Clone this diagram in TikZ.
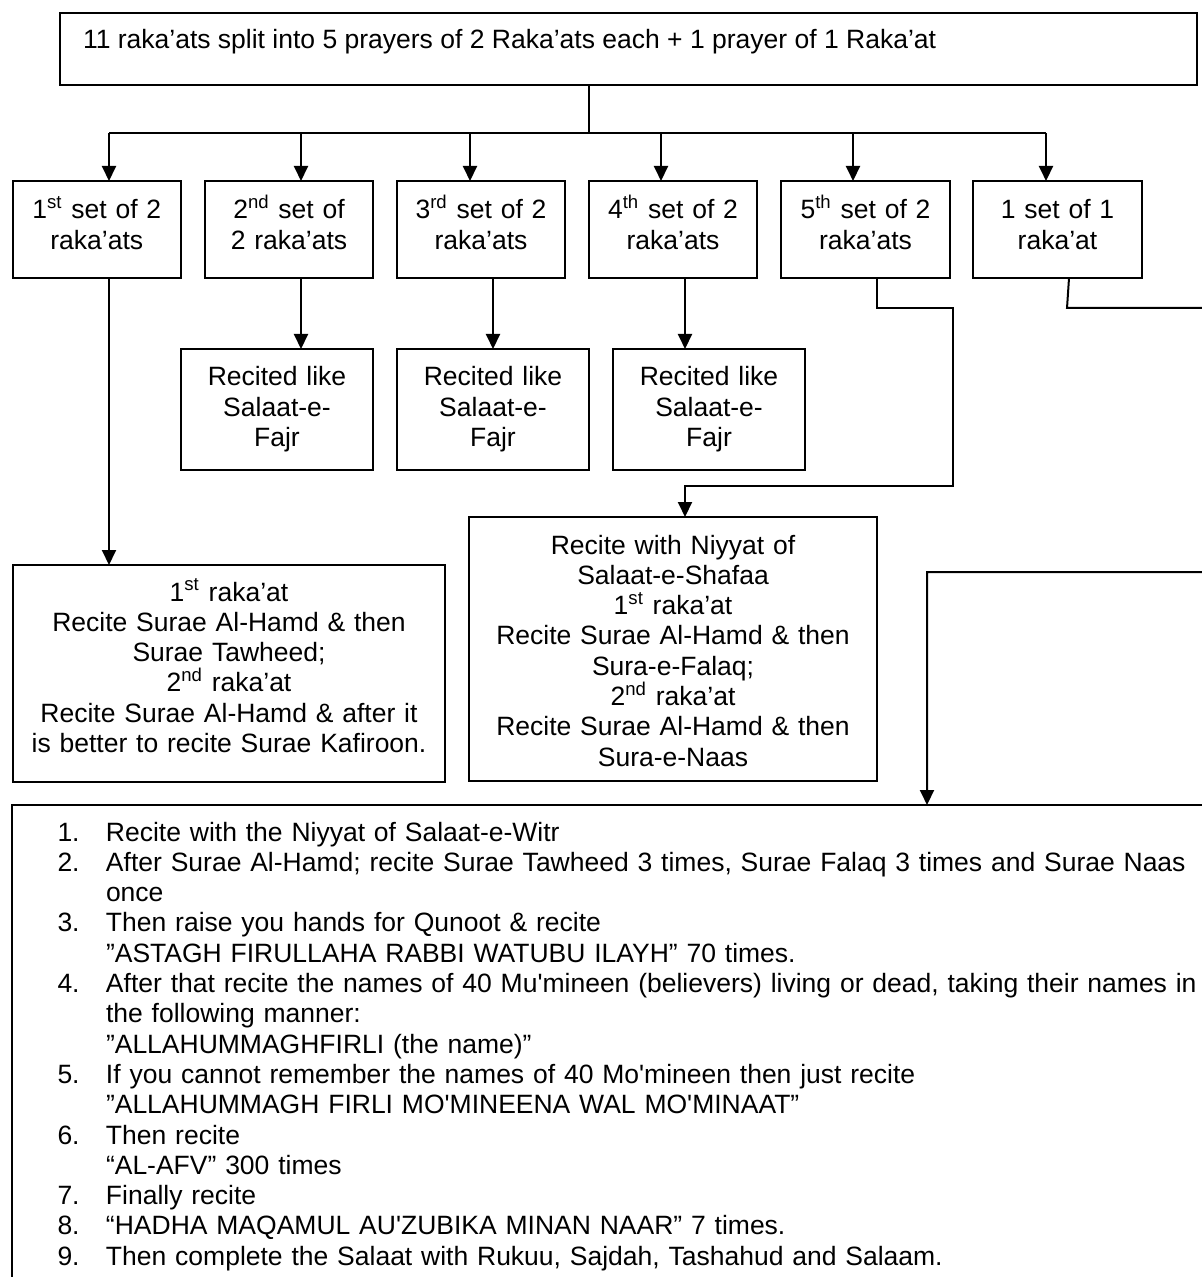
\documentclass[tikz,border=0pt]{standalone}
\usepackage{fontspec}
\setmainfont{Liberation Sans}[Ligatures=TeXOff]
\usetikzlibrary{arrows.meta,fit}
\begin{document}
\begin{tikzpicture}[x=0.5pt,y=-0.5pt,
  box/.style={draw, line width=1pt, inner sep=0pt, outer sep=0pt},
  txt/.style={inner sep=0pt, outer sep=0pt, align=center, font=\fontsize{13.25}{15.15}\selectfont},
  conn/.style={line width=1pt},
  arr/.style={conn, -{Triangle[length=7.5pt,width=7pt]}},
]
\useasboundingbox (0,0) rectangle (1202,1277);
\clip (0,0) rectangle (1202,1277);

% top box
\node[box, fit={(60,13) (1197,85)}] (top) {};
\node[txt, anchor=base west] (topt) at (83,49) {11 raka’ats split into 5 prayers of 2 Raka’ats each + 1 prayer of 1 Raka’at};

% first row
\node[box, fit={(12.6,181) (181,278)}] (b1) {};
\node[box, fit={(205,181) (373,278)}] (b2) {};
\node[box, fit={(397,181) (565,278)}] (b3) {};
\node[box, fit={(589,181) (757,278)}] (b4) {};
\node[box, fit={(781,181) (950,278)}] (b5) {};
\node[box, fit={(973,181) (1142,278)}] (b6) {};
\node[txt, text width=75pt, anchor=base] (b1t) at (96.8,219) {1\textsuperscript{st} set of 2\\raka’ats};
\node[txt, text width=75pt, anchor=base] (b2t) at (289,219) {2\textsuperscript{nd} set of\\2 raka’ats};
\node[txt, text width=75pt, anchor=base] (b3t) at (481,219) {3\textsuperscript{rd} set of 2\\raka’ats};
\node[txt, text width=75pt, anchor=base] (b4t) at (673,219) {4\textsuperscript{th} set of 2\\raka’ats};
\node[txt, text width=75pt, anchor=base] (b5t) at (865.5,219) {5\textsuperscript{th} set of 2\\raka’ats};
\node[txt, text width=75pt, anchor=base] (b6t) at (1057.5,219) {1 set of 1\\raka’at};

% recited boxes
\node[box, fit={(181,349) (373,470)}] (r1) {};
\node[box, fit={(397,349) (589,470)}] (r2) {};
\node[box, fit={(613,349) (805,470)}] (r3) {};
\node[txt, text width=90pt, anchor=base] (r1t) at (277,386) {Recited like\\Salaat-e-\\Fajr};
\node[txt, text width=90pt, anchor=base] (r2t) at (493,386) {Recited like\\Salaat-e-\\Fajr};
\node[txt, text width=90pt, anchor=base] (r3t) at (709,386) {Recited like\\Salaat-e-\\Fajr};

% left detail box
\node[box, fit={(12.5,565) (445,782)}] (L) {};
\node[txt, text width=210pt, anchor=base] (Lt) at (229,601) {1\textsuperscript{st} raka’at\\Recite Surae Al-Hamd \& then\\Surae Tawheed;\\2\textsuperscript{nd} raka’at\\Recite Surae Al-Hamd \& after it\\is better to recite Surae Kafiroon.};

% Niyyat box
\node[box, fit={(469,517) (877,781)}] (N) {};
\node[txt, text width=195pt, anchor=base] (Nt) at (673,554) {Recite with Niyyat of\\Salaat-e-Shafaa\\1\textsuperscript{st} raka’at\\Recite Surae Al-Hamd \& then\\Sura-e-Falaq;\\2\textsuperscript{nd} raka’at\\Recite Surae Al-Hamd \& then\\Sura-e-Naas};

% bottom box (runs off the page)
\node[box, fit={(12,805) (1240,1300)}] (B) {};
\node[txt, text width=575pt, align=left, anchor=base west] (Bt) at (57.5,841) {%
\makebox[24.25pt][l]{1.}Recite with the Niyyat of Salaat-e-Witr\\
\makebox[24.25pt][l]{2.}After Surae Al-Hamd; recite Surae Tawheed 3 times, Surae Falaq 3 times and Surae Naas\\
\hspace*{24.25pt}once\\
\makebox[24.25pt][l]{3.}Then raise you hands for Qunoot \& recite\\
\hspace*{24.25pt}”ASTAGH FIRULLAHA RABBI WATUBU ILAYH” 70 times.\\
\makebox[24.25pt][l]{4.}After that recite the names of 40 Mu'mineen (believers) living or dead, taking their names in\\
\hspace*{24.25pt}the following manner:\\
\hspace*{24.25pt}”ALLAHUMMAGHFIRLI (the name)”\\
\makebox[24.25pt][l]{5.}If you cannot remember the names of 40 Mo'mineen then just recite\\
\hspace*{24.25pt}”ALLAHUMMAGH FIRLI MO'MINEENA WAL MO'MINAAT”\\
\makebox[24.25pt][l]{6.}Then recite\\
\hspace*{24.25pt}“AL-AFV” 300 times\\
\makebox[24.25pt][l]{7.}Finally recite\\
\makebox[24.25pt][l]{8.}“HADHA MAQAMUL AU'ZUBIKA MINAN NAAR” 7 times.\\
\makebox[24.25pt][l]{9.}Then complete the Salaat with Rukuu, Sajdah, Tashahud and Salaam.};

% junction coordinates
\coordinate (stem) at (589,0);
\coordinate (bar) at (589,133);
\coordinate (j1) at (109,133);
\coordinate (j2) at (301,133);
\coordinate (j3) at (470,133);
\coordinate (j4) at (661,133);
\coordinate (j5) at (853,133);
\coordinate (j6) at (1046,133);
\coordinate (o3) at (493,0);
\coordinate (o4) at (685,0);
\coordinate (o5) at (877,0);
\coordinate (o6) at (1069,0);
\coordinate (k5a) at (877,308);
\coordinate (k5b) at (953,308);
\coordinate (k5c) at (953,486);
\coordinate (k5d) at (685,486);
\coordinate (k6a) at (1067,308);
\coordinate (k6b) at (1240,308);
\coordinate (k6c) at (1240,572);
\coordinate (k6d) at (927,572);

% connectors
\draw[conn] (stem |- top.south) -- (bar);
\draw[conn] (j1) -- (j6);
\foreach \i in {1,...,6} \draw[arr] (j\i) -- (j\i |- b\i.north);
\draw[arr] (j1 |- b1.south) -- (j1 |- L.north);
\draw[arr] (j2 |- b2.south) -- (j2 |- r1.north);
\draw[arr] (o3 |- b3.south) -- (o3 |- r2.north);
\draw[arr] (o4 |- b4.south) -- (o4 |- r3.north);
\draw[arr] (o5 |- b5.south) -- (k5a) -- (k5b) -- (k5c) -- (k5d) -- (k5d |- N.north);
\draw[arr] (o6 |- b6.south) -- (k6a) -- (k6b) -- (k6c) -- (k6d) -- (k6d |- B.north);
\end{tikzpicture}
\end{document}
